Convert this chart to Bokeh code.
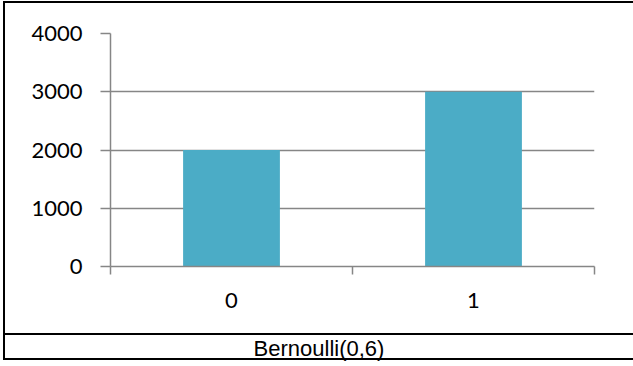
from bokeh.plotting import figure
from bokeh.models import Range1d, FixedTicker, Div
from bokeh.layouts import column
from bokeh.embed import file_html
from bokeh.resources import INLINE

# Bernoulli sample counts per outcome
categories = ["0", "1"]
counts = [2000, 3000]
y_ticks = [0, 1000, 2000, 3000, 4000]
caption = "Bernoulli(0,6)"

bar_color = "#4BACC6"
axis_grey = "#868686"

# categories sit at the centres of unit-wide slots
centers = [i + 0.5 for i in range(len(categories))]
slot_edges = list(range(len(categories) + 1))

p = figure(
    width=628, height=330,
    x_range=Range1d(0, len(categories)),
    y_range=Range1d(0, 4000),
    output_backend="svg", toolbar_location=None,
    min_border_left=105, min_border_right=39,
    min_border_top=30, min_border_bottom=67,
    background_fill_color="white", border_fill_color="white",
    margin=0,
)
p.outline_line_color = None

p.vbar(x=centers, top=counts, width=0.4, color=bar_color, line_color=None)

# y axis
p.yaxis.ticker = FixedTicker(ticks=y_ticks)
p.yaxis.axis_line_color = axis_grey
p.yaxis.axis_line_width = 1.5
p.yaxis.major_tick_line_color = axis_grey
p.yaxis.major_tick_line_width = 1.5
p.yaxis.major_tick_in = 0
p.yaxis.major_tick_out = 10
p.yaxis.minor_tick_line_color = None
p.yaxis.major_label_standoff = 18
p.yaxis.major_label_text_font = "Lato"
p.yaxis.major_label_text_font_size = "22px"
p.yaxis.major_label_text_color = "black"

# x axis: labels at slot centres, tick marks between slots
p.xaxis.ticker = FixedTicker(ticks=centers, minor_ticks=slot_edges)
p.xaxis.major_label_overrides = {c: lab for c, lab in zip(centers, categories)}
p.xaxis.axis_line_color = axis_grey
p.xaxis.axis_line_width = 1.5
p.xaxis.major_tick_line_color = None
p.xaxis.major_tick_in = 0
p.xaxis.major_tick_out = 0
p.xaxis.minor_tick_line_color = axis_grey
p.xaxis.minor_tick_line_width = 1.5
p.xaxis.minor_tick_in = 0
p.xaxis.minor_tick_out = 8
p.xaxis.major_label_standoff = 18
p.xaxis.major_label_text_font = "Lato"
p.xaxis.major_label_text_font_size = "22px"
p.xaxis.major_label_text_color = "black"

p.xgrid.grid_line_color = None
p.ygrid.grid_line_color = axis_grey
p.ygrid.grid_line_width = 1.5

# caption row under the chart
cap_font = "font-family: 'Liberation Sans', Arial, sans-serif; font-size: 22px; color: black;"
cap = Div(
    text=f'<span style="{cap_font}">{caption}</span>',
    width=628, height=27, margin=0,
    styles={
        "border-top": "2px solid black",
        "border-bottom": "2px solid black",
        "text-align": "center",
        "font-family": "Liberation Sans, Arial, sans-serif",
        "font-size": "22px",
        "line-height": "27px",
        "color": "black",
        "background-color": "white",
    },
)

root = column(
    p, cap, spacing=0,
    styles={
        "border-left": "2px solid black",
        "border-top": "2px solid black",
        "margin-left": "3px",
        "margin-top": "1px",
        "background-color": "white",
    },
)

open("out.html", "w").write(file_html(root, INLINE))
